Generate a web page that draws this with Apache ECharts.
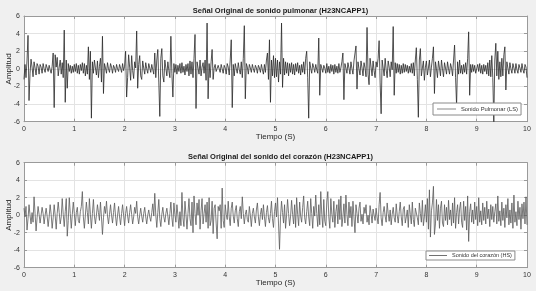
<!DOCTYPE html>
<html><head><meta charset="utf-8">
<script src="https://cdn.jsdelivr.net/npm/echarts@6/dist/echarts.min.js"></script>
<style>html,body{margin:0;padding:0;background:#f0f0f0}#c{width:536px;height:291px}</style>
</head><body><div id="c"></div>
<script>
// sample step (seconds)
const dt = 0.02;
// tick labels
const xTicks = [0,1,2,3,4,5,6,7,8,9,10];
const yTicks = [-6,-4,-2,0,2,4,6];
// Lung sound (LS), one array per second, 50 samples each (last has 51)
const ls0 = [-1.2,0.5,-1.0,1.0,3.8,-3.6,-0.5,1.1,0.2,-0.9, 0.8,0.1,-0.7,0.6,0.3,-0.6,0.5,0.2,-0.5,0.6, 0.0,-0.4,0.5,0.1,-0.3,0.4,-0.1,-0.5,0.3,1.8, -4.4,1.6,0.2,1.3,-0.8,0.2,1.0,-0.6,0.7,-1.0, 4.4,-3.8,1.0,-2.2,0.6,-0.3,0.4,-0.5,0.3,-0.4];
const ls1 = [0.5,-0.3,0.6,-0.5,0.4,-0.6,0.5,-0.2,0.7,-0.5, 0.6,-0.8,0.4,-0.6,2.5,-1.2,2.0,-5.6,0.8,-0.5, 1.0,0.1,-0.7,0.9,-1.0,0.3,1.2,-1.5,3.7,-2.8, 0.6,0.1,-0.5,0.7,0.0,-0.4,0.6,0.2,-0.5,0.4, 0.1,-0.4,0.5,0.0,-0.3,0.5,0.1,-0.4,0.6,-0.2];
const ls2 = [0.3,2.0,-3.2,-1.0,1.6,0.2,-1.3,1.5,-0.2,-1.1, 0.8,0.1,4.3,-2.2,0.5,1.5,-0.8,-1.2,0.9,0.1, -0.6,0.7,0.0,-0.5,0.6,0.1,-0.4,0.5,-0.1,-0.6, 1.8,-1.0,1.0,2.2,-1.5,-5.4,1.2,2.3,-0.8,-1.5, 1.0,0.1,-0.8,0.8,-0.2,-1.0,3.7,-0.5,-3.2,0.6];
const ls3 = [-0.4,0.5,-0.6,0.4,-0.3,0.6,-0.5,0.7,-0.4,0.3, -0.7,0.5,-0.3,0.6,-0.8,0.9,-0.6,0.8,-1.0,1.2, 3.9,-4.5,0.8,0.1,-0.6,1.0,-0.8,0.2,0.7,-0.5, 1.0,-1.3,5.2,-3.4,0.6,-1.0,0.8,2.2,-1.2,0.1, 0.5,-0.3,-0.5,0.4,0.3,-0.4,0.5,0.0,-0.5,0.4];
const ls4 = [0.1,-0.6,0.6,0.2,-0.7,1.0,3.3,-4.4,0.5,-0.8, 0.6,0.0,-0.5,0.7,-0.1,-0.6,0.8,-1.0,1.2,4.9, -3.4,0.6,0.2,-0.6,0.5,0.1,-0.4,0.5,0.0,-0.4, 0.4,0.1,-0.5,0.4,0.1,-0.4,0.5,-0.1,-0.6,0.5, -0.4,1.0,1.8,-1.2,3.3,-3.8,1.0,-0.8,1.5,-1.0];
const ls5 = [1.2,-0.9,1.0,-1.5,0.8,-0.6,5.2,-2.1,1.2,-0.7, 0.8,-0.5,0.7,-0.8,0.6,-0.4,0.7,-0.6,0.5,-0.7, 0.6,-0.3,0.7,-0.5,0.4,-0.7,0.5,-0.4,0.8,-0.6, 1.2,2.0,-1.0,-5.6,0.8,0.1,-0.5,0.6,0.2,-0.4, 0.5,-0.1,-0.5,3.5,-3.0,0.5,0.1,-0.4,0.4,0.1];
const ls6 = [-0.5,0.6,-0.4,0.3,-0.5,0.5,-0.3,0.4,-0.6,0.5, -0.4,0.3,-0.5,0.6,-0.4,0.1,0.8,1.8,-3.5,0.6, 0.1,-0.5,0.7,0.1,-0.6,0.8,0.0,-0.6,0.9,1.0, 2.6,-2.3,0.8,0.0,-0.7,0.9,0.1,-0.8,0.7,0.1, -0.9,4.7,-0.6,-1.8,1.2,0.2,-0.8,0.9,-0.2,-1.0];
const ls7 = [0.8,0.2,1.2,3.2,-1.5,-5.1,1.0,0.1,-0.8,1.2, -0.1,-1.0,0.9,0.2,-0.9,0.8,-0.1,4.8,-3.0,0.7, -0.5,0.6,-0.4,0.5,-0.6,0.4,-0.5,0.6,-0.4,0.5, -0.3,0.4,-0.5,0.3,-0.4,0.6,-0.5,0.7,-0.8,1.0, 2.4,-1.2,-5.5,1.0,2.3,-0.8,0.1,0.9,-1.3,0.2];
const ls8 = [0.9,-0.7,0.1,1.0,-0.9,0.2,1.2,2.5,-2.8,0.8, 0.0,-1.0,0.9,0.1,-0.8,1.0,0.0,-0.9,0.7,0.1, -0.6,0.8,0.0,-0.6,0.6,0.1,-0.8,1.0,2.7,-1.0, -4.1,0.8,-0.6,1.0,-0.5,0.4,-0.6,0.5,-0.4,0.7, -0.6,1.2,4.2,-3.0,0.5,-0.4,0.5,-0.3,0.4,-0.5];
const ls9 = [-0.4,0.5,-0.3,0.6,-0.5,0.4,-0.6,0.5,-0.3,0.4, -0.6,0.7,-0.8,1.0,-0.9,1.5,-1.0,-6.0,1.0,2.9, -0.8,2.0,-1.2,0.8,-0.9,1.2,-0.8,1.6,2.5,-2.4, 0.8,0.1,-0.6,0.7,0.0,-0.5,0.6,0.1,-0.5,0.6, -0.1,-0.5,0.5,0.1,-0.4,0.6,-0.1,-0.5,0.5,0.2,-1.0];
// Heart sound (HS)
const hs0 = [0.8,-0.2,1.0,-1.7,-0.4,1.2,0.0,-1.0,0.3,-0.8, 2.1,0.2,-1.8,-0.3,1.0,0.1,-0.9,0.0,0.9,0.2, -1.0,0.0,0.8,-0.1,-1.3,-0.2,1.2,0.1,-1.5,-0.3, 1.2,0.0,-1.6,0.2,1.5,0.3,-1.0,-0.2,1.9,0.1, -1.3,0.4,1.9,-2.4,-0.6,2.0,0.2,-1.5,0.1,1.5];
const hs1 = [0.2,-1.2,0.3,0.9,-0.6,-0.9,0.4,1.0,2.7,-0.2, -1.5,0.0,1.5,0.3,-1.0,1.9,0.1,-1.5,0.2,1.8, -0.1,-1.0,0.0,1.2,0.3,-0.6,1.5,-0.2,-2.2,-0.3, 1.0,0.2,1.6,-0.1,-1.0,0.1,1.2,0.0,-0.9,0.3, 1.4,-0.1,-1.2,0.0,1.0,-0.2,-1.1,0.2,1.2,0.0];
const hs2 = [-1.2,0.2,1.0,-0.1,-0.9,0.3,1.2,0.1,-1.0,-0.2, 0.9,0.2,1.6,-0.2,-1.0,0.0,0.8,-0.1,-0.8,0.2, 0.9,-0.2,-1.0,0.0,0.6,-0.2,-0.7,0.3,1.3,-0.1, 2.5,0.0,-1.4,0.3,1.8,-0.4,-1.3,0.1,0.9,-0.2, -0.8,0.2,0.8,-0.1,-1.1,0.2,1.5,-0.3,-1.3,1.4];
const hs3 = [0.1,-0.8,1.2,0.0,-1.5,0.4,-1.2,2.6,-0.3,-1.3, 1.6,0.1,-1.6,0.2,1.9,-0.4,-1.2,1.5,-2.0,2.2, 0.2,-1.1,1.4,0.0,1.8,-1.6,0.5,1.9,-1.0,0.2, 1.2,-0.8,1.5,-1.5,2.0,-1.2,-0.6,1.6,-2.1,0.8, 1.2,-0.9,-2.7,1.0,0.5,1.2,-1.5,3.1,-0.6,-1.4];
const hs4 = [1.2,0.1,-0.5,1.6,-0.2,-1.2,0.8,1.5,-0.1,-0.9, 0.5,1.1,-0.4,-1.3,0.4,1.0,-0.4,2.1,0.2,-1.0, 0.1,0.6,-0.5,-0.8,1.0,0.0,-1.3,0.2,0.8,-0.2, -0.9,0.6,1.4,-0.2,-1.2,0.1,0.8,-0.5,1.2,-0.2, -1.3,0.3,1.1,-0.3,-0.9,0.2,1.6,-0.4,-1.4,0.4];
const hs5 = [1.4,-0.2,2.0,-1.0,-3.9,-0.2,1.6,0.3,-0.9,1.2, -1.5,0.0,1.8,0.2,-1.2,-0.1,1.7,0.1,-1.0,1.2, -1.4,2.0,0.1,-1.2,1.5,-0.1,-0.8,0.9,2.2,-0.3, -1.0,0.4,1.6,-0.2,-1.2,1.9,0.2,-1.5,1.0,-0.1, 2.3,0.2,-1.3,1.2,-1.1,2.7,0.1,-1.4,1.8,-0.7];
const hs6 = [-1.2,1.5,2.7,-0.2,-1.5,1.9,0.1,-0.8,1.6,-1.4, 0.4,1.2,-1.0,1.8,-0.5,2.2,-1.3,-0.2,1.3,-0.9, 2.3,0.1,-1.2,1.5,-0.3,1.0,-1.3,1.6,-0.2,-2.0, 1.2,0.2,-0.9,0.8,1.5,-0.7,0.1,-1.0,0.9,0.2, 1.2,-0.8,0.0,-1.1,1.1,0.2,-0.9,0.7,0.0,-0.6];
const hs7 = [0.8,-0.2,-1.0,1.2,2.6,-0.3,-1.2,0.3,1.0,-0.1, -0.8,1.4,0.2,-0.7,0.6,-1.1,0.1,0.9,-0.3,-0.8, 1.3,0.0,-0.9,0.4,1.5,-0.2,-1.2,0.7,1.0,-0.9, -0.2,0.6,-1.4,1.2,0.1,-1.0,1.5,-0.5,-1.3,0.8, 1.0,-0.3,-1.1,1.4,0.2,-0.8,1.7,-1.2,-0.2,1.2];
const hs8 = [-0.8,1.9,-1.6,2.9,-2.5,0.5,1.4,3.3,-2.2,-1.0, 1.8,-0.6,1.2,-1.5,0.8,1.6,-0.9,-1.3,1.2,-0.6, 0.9,-1.1,1.7,-0.5,0.6,-1.2,1.4,-0.9,2.0,-1.5, 0.3,1.2,-1.0,0.7,1.5,-0.8,-1.4,1.6,-0.6,1.0, -1.7,2.2,-3.0,0.4,1.3,-0.8,0.6,-1.0,1.5,-0.5];
const hs9 = [1.0,-1.2,2.0,-0.8,0.5,-1.1,1.4,-0.6,0.9,-1.0, 1.6,-0.4,0.7,-1.3,1.2,-0.5,1.0,-0.8,0.4,1.3, -1.0,2.2,-0.7,0.5,-1.2,1.5,-0.6,0.8,-1.4,1.2, -0.3,1.9,-1.1,0.6,-0.9,1.4,-1.5,2.3,-0.8,0.4, -1.2,1.6,-0.5,0.9,-1.6,1.3,-0.4,1.5,-1.0,2.1,-1.1];

const lung = [].concat(ls0,ls1,ls2,ls3,ls4,ls5,ls6,ls7,ls8,ls9);
const heart = [].concat(hs0,hs1,hs2,hs3,hs4,hs5,hs6,hs7,hs8,hs9);
const toPairs = a => a.map((v,i)=>[+(i*dt).toFixed(2), v]);

const FONT = 'Liberation Sans, Arial, sans-serif';
const AX = '#9a9a9a';
const grids = [
  {left:24, right:9, top:16, height:105.7},
  {left:24, right:9, top:162.7, height:105}
];
function xAx(i){
  return {gridIndex:i, type:'value', min:0, max:10, interval:1,
    name:'Tiempo (S)', nameLocation:'middle', nameGap:11.5, nameMoveOverlap:false,
    nameTextStyle:{fontFamily:FONT, fontSize:8, color:'#262626', verticalAlign:'top'},
    axisLine:{show:true, onZero:false, lineStyle:{color:AX, width:1}},
    axisTick:{show:true, inside:true, length:3, lineStyle:{color:AX}},
    axisLabel:{fontFamily:FONT, fontSize:7, color:'#333', margin:4,
      formatter:v=>xTicks.includes(v)?String(v):''},
    splitLine:{show:true, lineStyle:{color:'#e3e3e3', width:1}}};
}
function yAx(i){
  return {gridIndex:i, type:'value', min:-6, max:6, interval:2,
    name:'Amplitud', nameLocation:'middle', nameGap:11, nameRotate:90, nameMoveOverlap:false,
    nameTextStyle:{fontFamily:FONT, fontSize:8, color:'#262626'},
    axisLine:{show:true, onZero:false, lineStyle:{color:AX, width:1}},
    axisTick:{show:true, inside:true, length:3, lineStyle:{color:AX}},
    axisLabel:{fontFamily:FONT, fontSize:7, color:'#333', margin:4,
      formatter:v=>yTicks.includes(v)?String(v):''},
    splitLine:{show:true, lineStyle:{color:'#e3e3e3', width:1}}};
}
function boxX(i){return {gridIndex:i, type:'value', min:0, max:10, interval:1, position:'top',
  axisLine:{show:true, onZero:false, lineStyle:{color:AX}},
  axisTick:{show:true, inside:true, length:3, lineStyle:{color:AX}},
  axisLabel:{show:false}, splitLine:{show:false}};}
function boxY(i){return {gridIndex:i, type:'value', min:-6, max:6, interval:2, position:'right',
  axisLine:{show:true, onZero:false, lineStyle:{color:AX}},
  axisTick:{show:true, inside:true, length:3, lineStyle:{color:AX}},
  axisLabel:{show:false}, splitLine:{show:false}};}

const chart = echarts.init(document.getElementById('c'), null, {renderer:'canvas'});
chart.setOption({
  animation:false,
  backgroundColor:'#f0f0f0',
  textStyle:{fontFamily:FONT},
  title:[
    {text:'Señal Original de sonido pulmonar (H23NCAPP1)', left:275.5, textAlign:'center', top:2,
     textStyle:{fontFamily:FONT, fontSize:7.5, fontWeight:'bold', color:'#1a1a1a'}},
    {text:'Señal Original del sonido del corazón (H23NCAPP1)', left:275.5, textAlign:'center', top:148,
     textStyle:{fontFamily:FONT, fontSize:7.5, fontWeight:'bold', color:'#1a1a1a'}}
  ],
  grid:grids.map(g=>Object.assign({show:true, backgroundColor:'#ffffff', borderWidth:0,
    containLabel:false, outerBoundsMode:'none'}, g)),
  xAxis:[xAx(0), xAx(1), boxX(0), boxX(1)],
  yAxis:[yAx(0), yAx(1), boxY(0), boxY(1)],
  legend:[
    {data:[{name:'Sonido Pulmonar (LS)', itemStyle:{color:'#b0b0b0'}}], left:433, top:103,
     orient:'vertical', icon:'rect', itemWidth:19, itemHeight:1.5, itemGap:0,
     padding:[3,3,3,4], backgroundColor:'#ffffff', borderColor:'#8a8a8a', borderWidth:1,
     textStyle:{fontFamily:FONT, fontSize:5.8, color:'#333'}},
    {data:[{name:'Sonido del corazón (HS)', itemStyle:{color:'#707070'}}], left:426, top:251,
     orient:'vertical', icon:'rect', itemWidth:18, itemHeight:1, itemGap:0,
     padding:[1.5,3,1.5,3], backgroundColor:'#ffffff', borderColor:'#8a8a8a', borderWidth:1,
     textStyle:{fontFamily:FONT, fontSize:5.5, color:'#333'}}
  ],
  series:[
    {name:'Sonido Pulmonar (LS)', type:'line', xAxisIndex:0, yAxisIndex:0, data:toPairs(lung),
     showSymbol:false, symbol:'none', sampling:null, lineStyle:{color:'#2a2a2a', width:0.8}},
    {name:'Sonido del corazón (HS)', type:'line', xAxisIndex:1, yAxisIndex:1, data:toPairs(heart),
     showSymbol:false, symbol:'none', sampling:null, lineStyle:{color:'#5a5a5a', width:0.8}}
  ]
});
</script></body></html>
